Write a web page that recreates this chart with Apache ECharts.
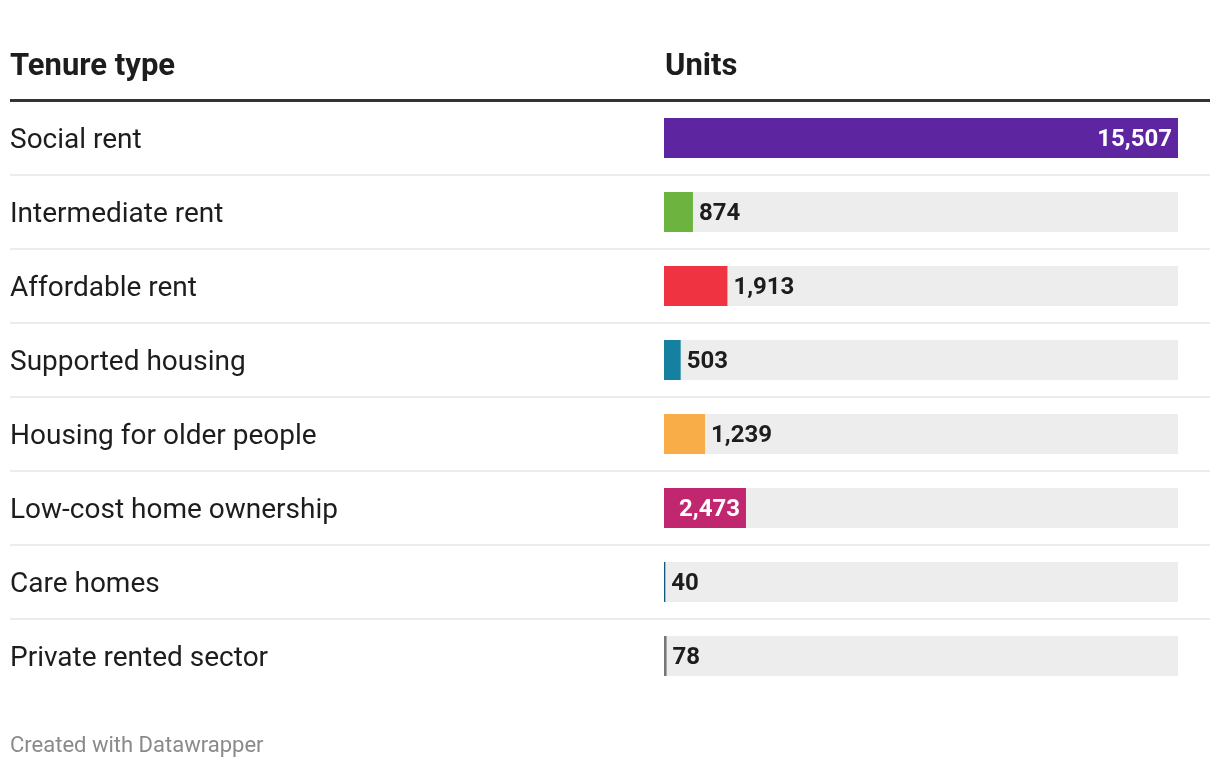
<!DOCTYPE html>
<html>
<head>
<meta charset="utf-8">
<script src="https://cdn.jsdelivr.net/npm/echarts@6/dist/echarts.min.js"></script>
<style>
html,body{margin:0;padding:0;background:#fff;}
#chart{width:1220px;height:768px;}
</style>
</head>
<body>
<div id="chart"></div>
<script>
const categories = ["Social rent","Intermediate rent","Affordable rent","Supported housing","Housing for older people","Low-cost home ownership","Care homes","Private rented sector"];
const units = [15507, 874, 1913, 503, 1239, 2473, 40, 78];
const barColors = ["#5d26a0","#6db33f","#f03340","#15809f","#f9ad48","#c1276f","#0e5a7c","#777777"];
const labelInside = [true,false,false,false,false,true,false,false];
const headers = ["Tenure type","Units"];
const footer = "Created with Datawrapper";

const FONT = "Roboto";
const maxVal = Math.max.apply(null, units);
const fmt = v => v.toLocaleString('en-US');

const chart = echarts.init(document.getElementById('chart'), null, {renderer:'canvas'});

const option = {
  animation:false,
  backgroundColor:'#fff',
  textStyle:{fontFamily:FONT},
  title:[
    {text:headers[0], left:10, top:52, padding:0, textStyle:{fontFamily:FONT,fontSize:31,fontWeight:'bold',color:'#1d1d1d'}},
    {text:headers[1], left:665, top:52, padding:0, textStyle:{fontFamily:FONT,fontSize:31,fontWeight:'bold',color:'#1d1d1d'}},
    {text:footer, left:10, top:735, padding:0, textStyle:{fontFamily:FONT,fontSize:22,fontWeight:'normal',color:'#8a8a8a'}}
  ],
  grid:{left:664, width:514, top:101, height:592, containLabel:false},
  xAxis:{type:'value', min:0, max:maxVal, show:false},
  yAxis:{
    type:'category', data:categories, inverse:true,
    axisLine:{show:false}, axisTick:{show:false}, splitLine:{show:false},
    axisLabel:{
      align:'left', margin:654,
      formatter: v => '{a|' + v + '}',
      rich:{a:{fontFamily:FONT, fontSize:28, color:'#1d1d1d', padding:[6,0,0,0]}}
    }
  },
  series:[
    {
      type:'bar', silent:true, barWidth:40, barGap:'-100%',
      itemStyle:{color:'#ededed'},
      data:categories.map(()=>maxVal),
      z:1
    },
    {
      type:'bar', barWidth:40, barGap:'-100%',
      data:units.map((v,i)=>({
        value:v,
        itemStyle:{color:barColors[i]},
        label:{
          show:true,
          position: labelInside[i] ? 'insideRight' : 'right',
          distance: 6,
          offset:[0,2],
          color: labelInside[i] ? '#ffffff' : '#1d1d1d',
          fontFamily:FONT, fontSize:24, fontWeight:'bold',
          formatter: p => fmt(p.value)
        }
      })),
      barMinWidth:2,
      z:2
    }
  ]
};
chart.setOption(option);

// Decorative separators and header rule, positioned from the category axis scale
const centers = categories.map(c => chart.convertToPixel({yAxisIndex:0}, c));
const graphics = [{
  type:'rect', shape:{x:10, y:99, width:1200, height:3}, style:{fill:'#333333'}, z:10
}];
for (let i = 0; i < centers.length - 1; i++) {
  const y = Math.round((centers[i] + centers[i+1]) / 2);
  graphics.push({type:'rect', shape:{x:10, y:y-1, width:1200, height:2}, style:{fill:'#ececec'}, z:0});
}
chart.setOption({graphic:graphics});
</script>
</body>
</html>
